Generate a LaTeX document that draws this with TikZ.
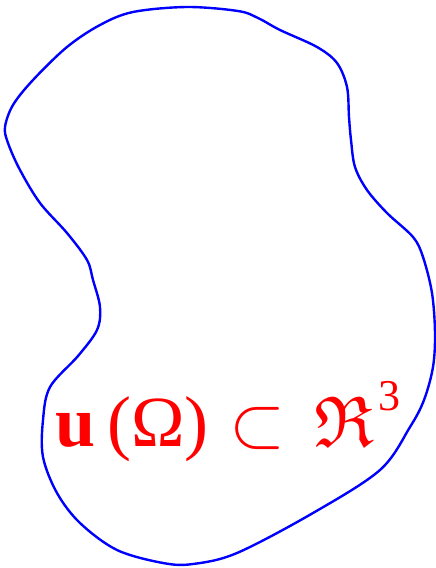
\documentclass[tikz,border=0pt]{standalone}
\usepackage{amsmath}
\usepackage{fontspec}
\usepackage{unicode-math}
\setmainfont{Liberation Serif}
\setmathfont{Latin Modern Math}
\usetikzlibrary{calc}

\begin{document}
\begin{tikzpicture}[x=1pt,y=-1pt]
  \useasboundingbox (0,0) rectangle (436,568);
  % the image region: a closed smooth blob
  \draw[blue,line width=2.4pt] plot[smooth cycle,tension=0.55] coordinates {
    (187,7) (238,11) (258,18) (280,30) (317,47) (337,63) (347,87) (349,117) (351,140)
    (355,167) (367,190) (387,213) (413,237) (423,257) (432,293) (435,333)
    (433,367) (424,400) (410,427) (380,470) (313,513) (237,553) (193,564)
    (163,563) (117,550) (80,523) (57,493) (43,457) (43,420) (50,387)
    (78,356) (97,330) (100,307) (93,280) (87,260) (67,233) (40,203) (20,170)
    (8,143) (5,127) (13,105) (33,80) (67,47) (100,25) (133,12)};
  % label of the set
  \node[red,anchor=base west,inner sep=0pt,font=\fontsize{72}{80}\selectfont] (lbl) at (55,446)
    {\textbf{u}\,(Ω)\hspace{3pt} $\subset$\hspace{11pt} $\Re$\hspace{2pt}\raisebox{36pt}{\fontsize{44}{46}\selectfont 3}};
\end{tikzpicture}
\end{document}
